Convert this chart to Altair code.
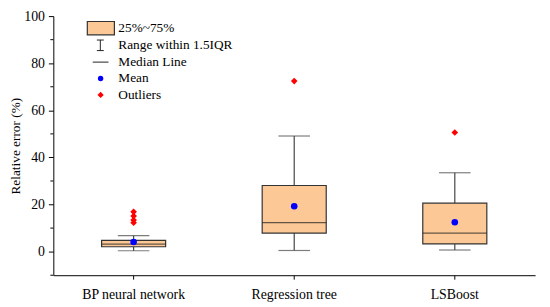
import altair as alt
import pandas as pd

categories = ["BP neural network", "Regression tree", "LSBoost"]
q1 = [2.1, 7.9, 3.3]
q3 = [4.8, 28.1, 20.6]
median = [3.2, 12.3, 7.9]
mean = [4.1, 19.3, 12.5]
whisker_low = [0.4, 0.5, 0.7]
whisker_high = [6.8, 49.1, 33.5]
outlier_cat = ["BP neural network"] * 4 + ["Regression tree", "LSBoost"]
outlier_val = [16.9, 15.1, 13.4, 12.3, 72.4, 50.6]
minor_ticks = [-10, 10, 30, 50, 70, 90]

legend_labels = ["25%~75%", "Range within 1.5IQR", "Median Line", "Mean", "Outliers"]

FONT = "Liberation Serif"
BOX_FILL = "#FCC896"
TOP = 4  # plot-area shift so that the "100" label is not clipped

df = pd.DataFrame({
    "cat": categories, "q1": q1, "q3": q3, "median": median, "mean": mean,
    "lo": whisker_low, "hi": whisker_high,
})
dfo = pd.DataFrame({"cat": outlier_cat, "val": outlier_val})
dfm = pd.DataFrame({"v": minor_ticks})

yscale = alt.Scale(domain=[-10, 100], nice=False, zero=False)
xscale = alt.Scale(domain=categories, paddingInner=0, paddingOuter=0)

xenc = alt.X("cat:N", scale=xscale, sort=categories, axis=alt.Axis(
    title=None, labelAngle=0, labelFont=FONT, labelFontSize=14, labelColor="black",
    domainColor="black", tickColor="black", tickSize=4, labelPadding=9))
yaxis = alt.Axis(title="Relative error (%)", values=[0, 20, 40, 60, 80, 100],
                 titleFont=FONT, titleFontSize=13.5, titleFontWeight="normal", titleColor="black",
                 labelFont=FONT, labelFontSize=14, labelColor="black", labelPadding=4,
                 domainColor="black", tickColor="black", tickSize=5, grid=False, titlePadding=1)

base = alt.Chart(df)

whisk_low = base.mark_rule(color="#444444", strokeWidth=1.2).encode(
    x=xenc, y=alt.Y("lo:Q", scale=yscale, axis=yaxis), y2="q1:Q")
whisk_high = base.mark_rule(color="#444444", strokeWidth=1.2).encode(
    x=alt.X("cat:N", scale=xscale, sort=categories), y=alt.Y("q3:Q", scale=yscale), y2="hi:Q")
cap_low = base.mark_tick(color="#444444", size=32, thickness=1.2, orient="horizontal").encode(
    x=alt.X("cat:N", scale=xscale, sort=categories), y=alt.Y("lo:Q", scale=yscale))
cap_high = base.mark_tick(color="#444444", size=32, thickness=1.2, orient="horizontal").encode(
    x=alt.X("cat:N", scale=xscale, sort=categories), y=alt.Y("hi:Q", scale=yscale))
box = base.mark_bar(size=65, fill=BOX_FILL, stroke="#333333", strokeWidth=1.2).encode(
    x=alt.X("cat:N", scale=xscale, sort=categories), y=alt.Y("q1:Q", scale=yscale), y2="q3:Q")
med = base.mark_tick(color="#222222", size=65, thickness=1.2, orient="horizontal").encode(
    x=alt.X("cat:N", scale=xscale, sort=categories), y=alt.Y("median:Q", scale=yscale))
mean_pt = base.mark_point(shape="circle", filled=True, color="#0000FF", size=45, opacity=1).encode(
    x=alt.X("cat:N", scale=xscale, sort=categories), y=alt.Y("mean:Q", scale=yscale))
outl = alt.Chart(dfo).mark_point(shape="diamond", filled=True, color="#FF0000", size=45, opacity=1).encode(
    x=alt.X("cat:N", scale=xscale, sort=categories), y=alt.Y("val:Q", scale=yscale))
minor = alt.Chart(dfm).mark_rule(color="black", strokeWidth=1).encode(
    x=alt.value(-3), x2=alt.value(0), y=alt.Y("v:Q", scale=yscale))

# Legend (drawn manually)
leg_rows = [16 - TOP, 33.3 - TOP, 50.7 - TOP, 67.3 - TOP, 84 - TOP]
leg_text = alt.Chart(pd.DataFrame({"t": legend_labels, "yy": leg_rows})).mark_text(
    align="left", baseline="middle", font=FONT, fontSize=13.5, color="black").encode(
    x=alt.value(66), y=alt.Y("yy:Q", scale=None), text="t:N")
one = pd.DataFrame({"a": [0]})
leg_box = alt.Chart(one).mark_rect(
    fill=BOX_FILL, stroke="#333333", strokeWidth=1.2).encode(
    x=alt.value(34.5), x2=alt.value(62), y=alt.value(9.5 - TOP), y2=alt.value(23 - TOP))
leg_ibeam = alt.Chart(one).mark_rule(color="#222222", strokeWidth=1).encode(
    x=alt.value(47.7), y=alt.value(28.3 - TOP), y2=alt.value(39 - TOP))
leg_cap1 = alt.Chart(one).mark_rule(color="#222222", strokeWidth=1).encode(
    x=alt.value(44.2), x2=alt.value(51.2), y=alt.value(28.3 - TOP))
leg_cap2 = alt.Chart(one).mark_rule(color="#222222", strokeWidth=1).encode(
    x=alt.value(44.2), x2=alt.value(51.2), y=alt.value(39 - TOP))
leg_med = alt.Chart(one).mark_rule(color="#222222", strokeWidth=1).encode(
    x=alt.value(40), x2=alt.value(56), y=alt.value(50.7 - TOP))
leg_mean = alt.Chart(one).mark_point(
    shape="circle", filled=True, color="#0000FF", size=30, opacity=1).encode(
    x=alt.value(48), y=alt.value(67.3 - TOP))
leg_out = alt.Chart(one).mark_point(
    shape="diamond", filled=True, color="#FF0000", size=40, opacity=1).encode(
    x=alt.value(48), y=alt.value(84 - TOP))

chart = alt.layer(
    whisk_low, whisk_high, cap_low, cap_high, box, med, mean_pt, outl, minor,
    leg_box, leg_ibeam, leg_cap1, leg_cap2, leg_med, leg_mean, leg_out, leg_text,
).properties(
    width=489, height=267 - TOP,
    autosize=alt.AutoSizeParams(type="none"),
    padding={"left": 46, "top": 2 + TOP, "right": 7, "bottom": 28},
).configure(background="white", font=FONT).configure_view(stroke=None).configure_axis(
    labelFont=FONT, titleFont=FONT)

chart.save("out.html", embed_options={"renderer": "svg", "actions": False})
